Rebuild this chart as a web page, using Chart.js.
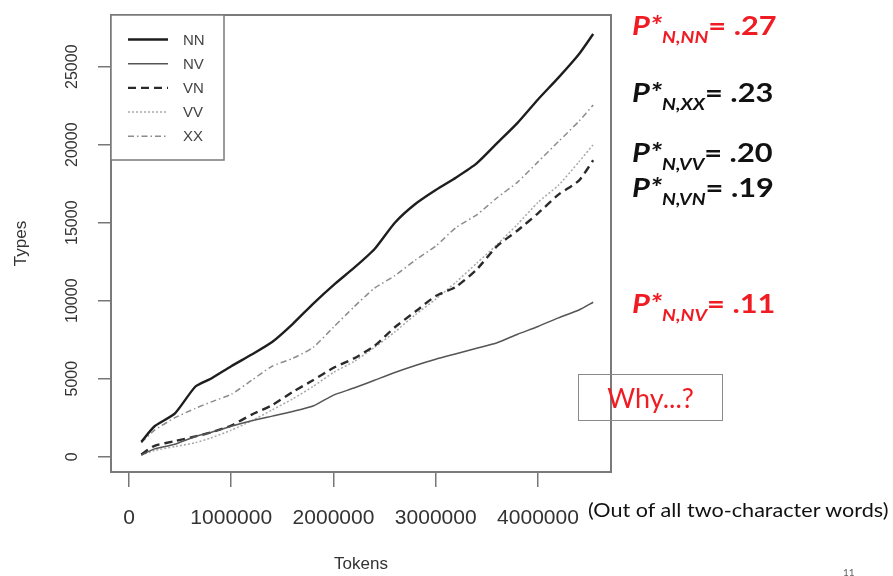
<!DOCTYPE html>
<html><head><meta charset="utf-8">
<script src="https://cdn.jsdelivr.net/npm/chart.js@4"></script>
<style>
html,body{margin:0;padding:0;background:#fff;}
#wrap{position:relative;width:893px;height:576px;overflow:hidden;background:#fff;}
#c{position:absolute;left:0;top:0;}
.ann{position:absolute;left:632px;font-family:Lato,'Open Sans',sans-serif;white-space:nowrap;color:#111;font-size:27px;line-height:27px;font-weight:bold;transform:scaleX(1.14);transform-origin:0 0;}
.ann .p{font-style:italic;}
.ann sub{font-size:17px;font-style:italic;vertical-align:baseline;position:relative;top:8px;}
.red{color:#f01c24;}
#why{position:absolute;left:578px;top:374px;width:143px;height:45px;border:1.5px solid #8a8a8a;display:flex;align-items:center;justify-content:center;font-family:Lato,'Open Sans',sans-serif;font-size:27px;color:#f01c24;}
#note{position:absolute;left:588px;top:499px;font-family:Lato,'Open Sans',sans-serif;font-size:20px;color:#111;white-space:nowrap;line-height:20px;transform:scaleX(1.08);transform-origin:0 0;}
#pg{position:absolute;left:843px;top:566px;font-family:Lato,sans-serif;font-size:10px;color:#666;}
</style>
</head><body>
<div id="wrap">
<canvas id="c" width="893" height="576"></canvas>
<div class="ann red" style="top:11px"><span class="p">P*<sub>N,NN</sub></span>= .27</div>
<div class="ann" style="top:78px"><span class="p">P*<sub>N,XX</sub></span>= .23</div>
<div class="ann" style="top:138px"><span class="p">P*<sub>N,VV</sub></span>= .20</div>
<div class="ann" style="top:173px"><span class="p">P*<sub>N,VN</sub></span>= .19</div>
<div class="ann red" style="top:289px"><span class="p">P*<sub>N,NV</sub></span>= .11</div>
<div id="why">Why...?</div>
<div id="note">(Out of all two-character words)</div>
<div id="pg">11</div>
</div>
<script>
// ---- data ----
const tokens = [120000, 250000, 450000, 650000, 800000, 1000000, 1200000, 1400000, 1600000, 1800000, 2000000, 2200000, 2400000, 2600000, 2800000, 3000000, 3200000, 3400000, 3600000, 3800000, 4000000, 4200000, 4400000, 4540000];
const seriesNames = ['NN', 'NV', 'VN', 'VV', 'XX'];
const nn = [950, 1950, 2780, 4500, 5000, 5800, 6550, 7350, 8500, 9800, 11000, 12100, 13300, 15000, 16200, 17100, 17900, 18800, 20100, 21400, 22900, 24300, 25800, 27100];
const nv = [100, 500, 800, 1300, 1550, 1950, 2300, 2600, 2900, 3250, 3950, 4400, 4900, 5400, 5850, 6250, 6600, 6950, 7300, 7850, 8350, 8900, 9400, 9900];
const vn = [150, 700, 1000, 1300, 1550, 2000, 2700, 3300, 4150, 4900, 5700, 6300, 7100, 8300, 9300, 10300, 10900, 12000, 13500, 14500, 15600, 16800, 17700, 19000];
const vv = [100, 400, 650, 900, 1200, 1700, 2300, 3000, 3700, 4500, 5400, 6100, 7000, 8000, 9100, 10100, 11200, 12400, 13600, 14900, 16300, 17400, 18900, 20000];
const xx = [900, 1700, 2500, 3100, 3500, 4000, 4900, 5800, 6300, 7000, 8300, 9600, 10800, 11600, 12600, 13500, 14700, 15500, 16600, 17600, 18900, 20200, 21500, 22550];
const xTickValues = [0, 1000000, 2000000, 3000000, 4000000];
const yTickValues = [0, 5000, 10000, 15000, 20000, 25000];

const values = [nn, nv, vn, vv, xx];
const styles = [
  {borderColor:'#1e1e1e', borderWidth:2.4, borderDash:[]},
  {borderColor:'#555555', borderWidth:1.5, borderDash:[]},
  {borderColor:'#2a2a2a', borderWidth:2.4, borderDash:[8,5]},
  {borderColor:'#a8a8a8', borderWidth:1.5, borderDash:[2,2]},
  {borderColor:'#8c8c8c', borderWidth:1.5, borderDash:[6,3,1.5,3]}
];
const datasets = seriesNames.map((name, i) => Object.assign({
  label: name,
  data: tokens.map((t, j) => ({x: t, y: values[i][j]})),
  pointRadius: 0, tension: 0.2, fill: false
}, styles[i]));

const boxPlugin = {
  id: 'boxPlugin',
  afterDraw(chart) {
    const {ctx, chartArea: a} = chart;
    ctx.save();
    ctx.strokeStyle = '#7a7a7a'; ctx.lineWidth = 2;
    ctx.strokeRect(a.left, a.top, a.right - a.left, a.bottom - a.top);
    const ys = chart.scales.y;
    ctx.fillStyle = '#333'; ctx.font = '16px "Liberation Sans", Arial, sans-serif';
    ctx.textAlign = 'center'; ctx.textBaseline = 'middle';
    ys.ticks.forEach(t => {
      const py = ys.getPixelForValue(t.value);
      ctx.save(); ctx.translate(73, py); ctx.rotate(-Math.PI/2);
      ctx.fillText(String(t.value), 0, 0); ctx.restore();
    });
    const lx = a.left, ly = a.top, lw = 113, lh = 145;
    ctx.fillStyle = '#fff'; ctx.fillRect(lx, ly, lw, lh);
    ctx.strokeStyle = '#7a7a7a'; ctx.lineWidth = 1.5; ctx.strokeRect(lx, ly, lw, lh);
    chart.data.datasets.forEach((d, i) => {
      const y = 39.5 + i * 24.2;
      ctx.save();
      ctx.strokeStyle = d.borderColor; ctx.lineWidth = d.borderWidth; ctx.setLineDash(d.borderDash);
      ctx.beginPath(); ctx.moveTo(128, y); ctx.lineTo(168, y); ctx.stroke();
      ctx.restore();
      ctx.fillStyle = '#444'; ctx.font = '15px "Liberation Sans", Arial, sans-serif';
      ctx.textAlign = 'left'; ctx.textBaseline = 'middle';
      ctx.fillText(d.label, 183, y + 1);
    });
    ctx.restore();
  }
};

new Chart(document.getElementById('c'), {
  type: 'line',
  data: {datasets},
  options: {
    responsive: false, animation: false, devicePixelRatio: 1,
    layout: {padding: {left: 0, top: 15, right: 282, bottom: 0}},
    plugins: {legend: {display: false}, tooltip: {enabled: false}},
    scales: {
      x: {
        type: 'linear', min: -176000, max: 4714000,
        afterBuildTicks: s => { s.ticks = xTickValues.map(v => ({value: v})); },
        afterFit: s => { s.height = 104; },
        grid: {drawOnChartArea: false, drawTicks: true, tickLength: 15, color: '#777', lineWidth: 1.5},
        border: {display: false},
        ticks: {color: '#333', padding: 19, maxRotation: 0, font: {family: '"Liberation Sans", Arial, sans-serif', size: 21}, callback: v => String(v)},
        title: {display: true, text: 'Tokens', color: '#333', font: {family: '"Liberation Sans", Arial, sans-serif', size: 17}, padding: {top: 0, bottom: 1}}
      },
      y: {
        type: 'linear', min: -981, max: 28314,
        afterBuildTicks: s => { s.ticks = yTickValues.map(v => ({value: v})); },
        afterFit: s => { s.width = 111; },
        grid: {drawOnChartArea: false, drawTicks: true, tickLength: 13, color: '#777', lineWidth: 1.5},
        border: {display: false},
        ticks: {display: false},
        title: {display: true, text: 'Types', color: '#333', font: {family: '"Liberation Sans", Arial, sans-serif', size: 17}, padding: {top: 11, bottom: 0}}
      }
    }
  },
  plugins: [boxPlugin]
});
</script>
</body></html>
